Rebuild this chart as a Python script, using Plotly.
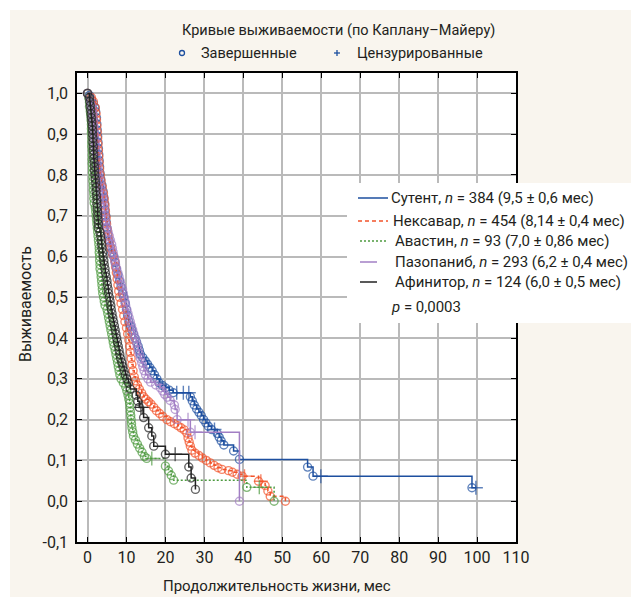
import plotly.graph_objects as go

# ---------------- data ----------------
drug_names = ["Сутент", "Нексавар", "Авастин", "Пазопаниб", "Афинитор"]
drug_n = [384, 454, 93, 293, 124]
drug_median = ["9,5", "8,14", "7,0", "6,2", "6,0"]
drug_err = ["0,6", "0,4", "0,86", "0,4", "0,5"]
p_value = "0,0003"

x_tickvals = [0, 10, 20, 30, 40, 50, 60, 70, 80, 90, 100, 110]
x_ticktext = ["0", "10", "20", "30", "40", "50", "60", "70", "80", "90", "100", "110"]
y_tickvals = [-0.1, 0.0, 0.1, 0.2, 0.3, 0.4, 0.5, 0.6, 0.7, 0.8, 0.9, 1.0]
y_ticktext = ["-0,1", "0,0", "0,1", "0,2", "0,3", "0,4", "0,5", "0,6", "0,7", "0,8", "0,9", "1,0"]

# events: (time in months, survival after the event); censored: (time, survival)
sutent_events = [
    (0.5, 0.995), (1.0, 0.985), (1.5, 0.975), (1.9, 0.965), (2.1, 0.955), (2.3, 0.94), (2.4, 0.925),
    (2.5, 0.91), (2.6, 0.895), (2.7, 0.88), (2.8, 0.865), (2.9, 0.85), (3.0, 0.835), (3.1, 0.82),
    (3.2, 0.805), (3.4, 0.79), (3.7, 0.775), (4.0, 0.76), (4.2, 0.745), (4.4, 0.73), (4.5, 0.715),
    (4.7, 0.70), (4.8, 0.685), (5.0, 0.67), (5.2, 0.655), (5.5, 0.64), (5.8, 0.625), (6.2, 0.61),
    (6.7, 0.60), (7.1, 0.585), (7.4, 0.57), (7.8, 0.555), (8.2, 0.54), (8.6, 0.525), (9.0, 0.51),
    (9.3, 0.50), (9.7, 0.485), (10.0, 0.47), (10.3, 0.455), (10.6, 0.44), (11.0, 0.43), (11.4, 0.42),
    (11.8, 0.41), (12.2, 0.40), (12.6, 0.39), (13.0, 0.38), (13.3, 0.37), (13.6, 0.36), (14.2, 0.352),
    (14.8, 0.344), (15.4, 0.336), (16.0, 0.328), (16.6, 0.32), (17.2, 0.31), (17.8, 0.30), (18.4, 0.29),
    (19.2, 0.284), (20.0, 0.278), (21.0, 0.272), (22.0, 0.266), (26.4, 0.256), (26.9, 0.246),
    (27.4, 0.236), (28.0, 0.226), (28.6, 0.218), (29.2, 0.21), (29.8, 0.20), (30.4, 0.192),
    (31.0, 0.184), (31.8, 0.176), (33.3, 0.166), (33.8, 0.157), (34.3, 0.148), (35.0, 0.138),
    (37.5, 0.123), (39.0, 0.1025), (56.5, 0.0836), (57.9, 0.0615), (98.7, 0.033),
]
sutent_censored = [(22.9, 0.266), (24.6, 0.266), (26.0, 0.266), (32.6, 0.176), (59.9, 0.0615), (99.7, 0.033)]

nexavar_events = [
    (1.0, 0.99), (1.5, 0.98), (2.0, 0.965), (2.2, 0.95), (2.3, 0.935), (2.4, 0.92), (2.5, 0.905),
    (2.6, 0.89), (2.7, 0.875), (2.8, 0.86), (2.9, 0.845), (3.0, 0.83), (3.1, 0.815), (3.3, 0.80),
    (3.5, 0.785), (3.8, 0.77), (4.1, 0.755), (4.3, 0.74), (4.5, 0.725), (4.6, 0.71), (4.8, 0.695),
    (4.9, 0.68), (5.1, 0.665), (5.3, 0.65), (5.6, 0.635), (6.0, 0.62), (6.5, 0.605), (7.0, 0.59),
    (7.2, 0.575), (7.4, 0.56), (7.6, 0.545), (7.8, 0.53), (8.0, 0.515), (8.2, 0.50), (8.6, 0.485),
    (9.0, 0.47), (9.3, 0.455), (9.6, 0.44), (10.0, 0.425), (10.3, 0.41), (10.6, 0.395), (10.8, 0.38),
    (11.0, 0.365), (11.2, 0.35), (11.4, 0.335), (11.7, 0.32), (12.0, 0.305), (12.3, 0.295),
    (12.8, 0.285), (13.3, 0.275), (13.9, 0.265), (14.4, 0.256), (15.0, 0.25), (15.7, 0.244),
    (16.3, 0.238), (17.0, 0.23), (17.7, 0.222), (18.5, 0.215), (19.3, 0.208), (20.4, 0.20),
    (21.3, 0.195), (22.3, 0.19), (23.2, 0.185), (24.0, 0.18), (24.8, 0.175), (25.5, 0.167),
    (25.8, 0.155), (26.1, 0.145), (26.4, 0.135), (26.8, 0.125), (27.6, 0.118), (28.6, 0.112),
    (29.5, 0.106), (30.5, 0.10), (31.5, 0.094), (32.5, 0.088), (33.5, 0.082), (34.5, 0.078),
    (36.2, 0.075), (37.2, 0.071), (38.4, 0.066), (39.7, 0.0615), (43.9, 0.049), (45.6, 0.0385),
    (46.3, 0.025), (46.9, 0.012), (50.8, 0.0),
]
nexavar_censored = [(40.3, 0.0615), (44.5, 0.049)]

avastin_events = [
    (0.3, 0.989), (0.5, 0.978), (0.5, 0.967), (0.7, 0.956), (0.8, 0.946), (0.9, 0.935), (1.0, 0.924),
    (1.0, 0.913), (1.0, 0.903), (1.1, 0.892), (1.1, 0.881), (1.1, 0.87), (1.2, 0.86), (1.2, 0.849),
    (1.2, 0.838), (1.2, 0.828), (1.3, 0.817), (1.3, 0.806), (1.4, 0.795), (1.4, 0.785), (1.5, 0.774),
    (1.5, 0.763), (1.6, 0.753), (1.6, 0.742), (1.7, 0.731), (2.0, 0.72), (2.1, 0.71), (2.2, 0.70),
    (2.3, 0.69), (2.4, 0.68), (2.5, 0.67), (2.6, 0.66), (2.7, 0.65), (2.8, 0.64), (2.9, 0.63),
    (3.0, 0.62), (3.0, 0.61), (3.1, 0.60), (3.1, 0.59), (3.2, 0.58), (3.2, 0.57), (3.4, 0.56),
    (3.5, 0.55), (3.6, 0.54), (3.7, 0.53), (3.8, 0.52), (3.9, 0.51), (4.1, 0.50), (4.3, 0.49),
    (4.5, 0.48), (5.0, 0.47), (5.2, 0.46), (5.4, 0.45), (5.6, 0.44), (5.8, 0.43), (6.0, 0.42),
    (6.2, 0.41), (6.4, 0.40), (6.6, 0.39), (6.8, 0.38), (7.1, 0.37), (7.3, 0.36), (7.5, 0.35),
    (7.7, 0.34), (7.9, 0.33), (8.1, 0.32), (8.3, 0.31), (8.6, 0.30), (9.2, 0.29), (9.8, 0.28),
    (10.1, 0.27), (10.4, 0.26), (10.6, 0.25), (10.8, 0.24), (10.9, 0.23), (11.0, 0.22), (11.1, 0.21),
    (11.2, 0.20), (11.3, 0.19), (11.4, 0.18), (11.6, 0.17), (11.8, 0.16), (12.3, 0.15), (12.8, 0.14),
    (13.4, 0.13), (14.0, 0.12), (14.6, 0.11), (15.2, 0.105), (20.0, 0.086), (20.8, 0.074),
    (21.5, 0.063), (22.1, 0.0516), (40.9, 0.034), (47.9, 0.0),
]
avastin_censored = [(16.5, 0.105), (44.1, 0.034)]

pazopanib_events = [
    (0.5, 0.99), (0.8, 0.98), (1.0, 0.97), (1.2, 0.96), (1.3, 0.95), (1.4, 0.94), (1.5, 0.93),
    (1.6, 0.92), (1.7, 0.91), (1.8, 0.90), (1.9, 0.89), (2.0, 0.88), (2.1, 0.87), (2.2, 0.86),
    (2.3, 0.85), (2.4, 0.84), (2.5, 0.83), (2.6, 0.82), (2.7, 0.81), (2.8, 0.80), (3.0, 0.79),
    (3.2, 0.78), (3.4, 0.77), (3.6, 0.76), (3.8, 0.75), (3.9, 0.74), (4.0, 0.73), (4.2, 0.72),
    (4.3, 0.71), (4.4, 0.70), (4.5, 0.69), (4.7, 0.68), (5.0, 0.67), (5.3, 0.66), (5.6, 0.65),
    (5.9, 0.64), (6.2, 0.63), (6.4, 0.62), (6.6, 0.61), (6.8, 0.60), (7.0, 0.59), (7.2, 0.58),
    (7.5, 0.57), (7.8, 0.56), (8.1, 0.55), (8.4, 0.54), (8.7, 0.53), (9.0, 0.52), (9.2, 0.51),
    (9.4, 0.50), (9.6, 0.49), (9.8, 0.48), (10.1, 0.47), (10.4, 0.46), (10.7, 0.45), (11.0, 0.44),
    (11.3, 0.43), (11.6, 0.42), (11.9, 0.41), (12.2, 0.40), (12.5, 0.39), (12.8, 0.38), (13.0, 0.37),
    (13.3, 0.36), (13.6, 0.35), (13.9, 0.34), (14.2, 0.33), (14.5, 0.32), (14.9, 0.31), (15.5, 0.30),
    (16.2, 0.292), (17.5, 0.285), (18.7, 0.278), (19.3, 0.27), (19.8, 0.262), (20.5, 0.255),
    (21.2, 0.247), (22.3, 0.236), (22.5, 0.225), (23.0, 0.20), (26.4, 0.169), (39.0, 0.0),
]
pazopanib_censored = [(25.8, 0.20), (27.6, 0.169)]

afinitor_events = [
    (0.5, 0.99), (0.6, 0.98), (0.7, 0.97), (0.8, 0.96), (0.9, 0.95), (1.0, 0.94), (1.1, 0.93),
    (1.2, 0.92), (1.3, 0.91), (1.3, 0.90), (1.4, 0.89), (1.4, 0.88), (1.5, 0.87), (1.5, 0.86),
    (1.6, 0.85), (1.6, 0.84), (1.7, 0.83), (1.8, 0.82), (1.8, 0.81), (1.9, 0.80), (2.0, 0.79),
    (2.1, 0.78), (2.2, 0.77), (2.2, 0.76), (2.3, 0.75), (2.4, 0.74), (2.4, 0.73), (2.5, 0.72),
    (2.6, 0.71), (2.6, 0.70), (2.7, 0.69), (2.8, 0.68), (2.8, 0.67), (3.2, 0.66), (3.4, 0.65),
    (3.5, 0.64), (3.6, 0.63), (3.7, 0.62), (3.9, 0.61), (4.0, 0.60), (4.2, 0.59), (4.3, 0.58),
    (4.5, 0.57), (4.6, 0.56), (4.8, 0.55), (5.0, 0.54), (5.1, 0.53), (5.3, 0.52), (5.4, 0.51),
    (5.6, 0.50), (5.8, 0.49), (6.0, 0.48), (6.1, 0.47), (6.3, 0.46), (6.5, 0.45), (6.7, 0.44),
    (6.9, 0.43), (7.1, 0.42), (7.3, 0.41), (7.5, 0.40), (7.7, 0.39), (7.9, 0.38), (8.1, 0.37),
    (8.3, 0.36), (8.5, 0.35), (8.8, 0.34), (9.1, 0.33), (9.4, 0.32), (9.7, 0.31), (10.1, 0.30),
    (10.5, 0.29), (11.0, 0.275), (12.5, 0.26), (12.9, 0.245), (13.3, 0.23), (14.4, 0.205),
    (15.7, 0.18), (16.5, 0.16), (17.0, 0.135), (20.0, 0.115), (26.0, 0.084), (26.6, 0.057),
    (27.7, 0.029),
]
afinitor_censored = [(13.7, 0.23), (14.1, 0.23), (22.5, 0.115)]

# ---------------- style ----------------
FONT = "Roboto, 'Liberation Sans', sans-serif"
TXT = "#231f20"
colors = ["#1d4f9f", "#f2532a", "#4d9a3f", "#a27fc4", "#222222"]
dashes = ["solid", "4px,3px", "2px,2px", "solid", "solid"]
BEIGE = "#f9f5ee"

W, H = 639, 598
OFF = 8  # the page body margin shifts the figure by 8 px right and down
ML, MR, MT, MB = 69, 131, 65, 64
PW = W - ML - MR
PH = H - MT - MB


def fx(px):
    """page x pixel -> paper coordinate"""
    return (px - OFF - ML) / PW


def fy(py):
    """page y pixel -> paper coordinate"""
    return (H - MB - (py - OFF)) / PH


series = [
    (sutent_events, sutent_censored),
    (nexavar_events, nexavar_censored),
    (avastin_events, avastin_censored),
    (pazopanib_events, pazopanib_censored),
    (afinitor_events, afinitor_censored),
]

fig = go.Figure()
for i, (ev, ce) in enumerate(series):
    pts = [(0.0, 1.0, "circle-open", 8)]
    pts += [(t, s, "circle-open", 8) for t, s in ev]
    pts += [(t, s, "cross-thin-open", 10) for t, s in ce]
    pts.sort(key=lambda p: (p[0], -p[1]))
    fig.add_trace(go.Scatter(
        x=[p[0] for p in pts], y=[p[1] for p in pts],
        mode="lines+markers",
        line=dict(shape="hv", color=colors[i], width=1.5, dash=dashes[i]),
        marker=dict(symbol=[p[2] for p in pts], size=[p[3] for p in pts],
                    color=colors[i], line=dict(color=colors[i], width=1.4)),
        showlegend=False, hoverinfo="skip",
    ))

shapes = []
shapes.append(dict(type="rect", xref="paper", yref="paper", layer="below",
                   x0=fx(10), x1=fx(660), y0=fy(597), y1=fy(10),
                   fillcolor=BEIGE, line=dict(width=0)))
shapes.append(dict(type="rect", xref="paper", yref="paper", layer="below",
                   x0=0, x1=1, y0=0, y1=1, fillcolor="white", line=dict(width=0)))
shapes.append(dict(type="rect", xref="paper", yref="paper", layer="above",
                   x0=fx(347), x1=fx(660), y0=fy(323), y1=fy(183),
                   fillcolor="white", line=dict(width=0)))

annotations = []
leg_rows_y = [198, 221, 241, 262, 282]
leg_line_x0 = [358, 358, 360, 360, 360]
leg_line_x1 = [388, 388, 386, 377, 377]
leg_text_x = [389, 391, 393, 393, 393]
for i in range(5):
    shapes.append(dict(type="line", xref="paper", yref="paper", layer="above",
                       x0=fx(leg_line_x0[i]), x1=fx(leg_line_x1[i]),
                       y0=fy(leg_rows_y[i]), y1=fy(leg_rows_y[i]),
                       line=dict(color=colors[i], width=1.5, dash=dashes[i])))
    label = f"{drug_names[i]}, <i>n</i> = {drug_n[i]} ({drug_median[i]} ± {drug_err[i]} мес)"
    annotations.append(dict(xref="paper", yref="paper", x=fx(leg_text_x[i]), y=fy(leg_rows_y[i]),
                            xanchor="left", yanchor="middle", showarrow=False, text=label,
                            font=dict(family=FONT, size=15, color=TXT)))
annotations.append(dict(xref="paper", yref="paper", x=fx(389), y=fy(307),
                        xanchor="left", yanchor="middle", showarrow=False,
                        text=f"<i>p</i> = {p_value}", font=dict(family=FONT, size=15, color=TXT)))

annotations.append(dict(xref="paper", yref="paper", x=fx(338), y=fy(31),
                        xanchor="center", yanchor="middle", showarrow=False,
                        text="Кривые выживаемости (по Каплану–Майеру)",
                        font=dict(family=FONT, size=14.5, color=TXT)))
annotations.append(dict(xref="paper", yref="paper", x=fx(199), y=fy(53),
                        xanchor="left", yanchor="middle", showarrow=False,
                        text="Завершенные", font=dict(family=FONT, size=14.5, color=TXT)))
annotations.append(dict(xref="paper", yref="paper", x=fx(355), y=fy(53),
                        xanchor="left", yanchor="middle", showarrow=False,
                        text="Цензурированные", font=dict(family=FONT, size=14.5, color=TXT)))
shapes.append(dict(type="circle", xref="paper", yref="paper", layer="above",
                   x0=fx(179.5), x1=fx(184.5), y0=fy(55.5), y1=fy(50.5),
                   line=dict(color=colors[0], width=1.3)))
shapes.append(dict(type="line", xref="paper", yref="paper", layer="above",
                   x0=fx(334), x1=fx(340), y0=fy(53), y1=fy(53),
                   line=dict(color=colors[0], width=1.3)))
shapes.append(dict(type="line", xref="paper", yref="paper", layer="above",
                   x0=fx(337), x1=fx(337), y0=fy(50), y1=fy(56),
                   line=dict(color=colors[0], width=1.3)))

annotations.append(dict(xref="paper", yref="paper", x=fx(277), y=fy(586),
                        xanchor="center", yanchor="middle", showarrow=False,
                        text="Продолжительность жизни, мес",
                        font=dict(family=FONT, size=15, color=TXT)))
annotations.append(dict(xref="paper", yref="paper", x=fx(25), y=fy(304),
                        xanchor="center", yanchor="middle", showarrow=False, textangle=-90,
                        text="Выживаемость", font=dict(family=FONT, size=16, color=TXT)))

axis_common = dict(showline=True, linecolor="black", linewidth=1.5, mirror="ticks",
                   ticks="inside", ticklen=5, tickwidth=1.3, tickcolor="black",
                   showgrid=True, gridcolor="#bababa", gridwidth=1.5, zeroline=False,
                   tickfont=dict(family=FONT, size=16, color=TXT))

fig.update_layout(
    width=W, height=H,
    margin=dict(l=ML, r=MR, t=MT, b=MB, pad=0),
    paper_bgcolor="white", plot_bgcolor="white",
    showlegend=False,
    xaxis=dict(range=[-2.7, 110], tickvals=x_tickvals, ticktext=x_ticktext, **axis_common),
    yaxis=dict(range=[-0.1, 1.05], tickvals=y_tickvals, ticktext=y_ticktext,
               ticklabelstandoff=4, **axis_common),
    shapes=shapes, annotations=annotations,
)

fig.write_html("out.html")
